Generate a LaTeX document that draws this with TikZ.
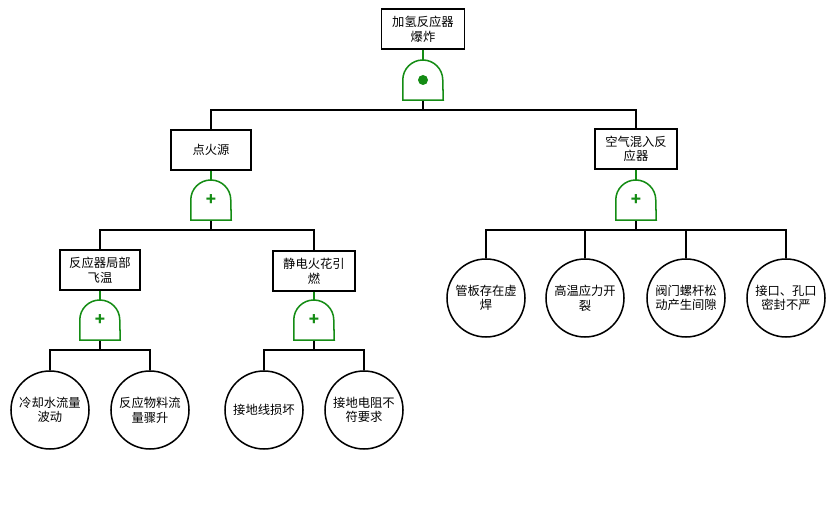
\documentclass[tikz,border=0pt]{standalone}
\usepackage{fontspec}
\setmainfont{Noto Sans CJK SC}
\usepackage{tikz}
\usetikzlibrary{positioning}
\definecolor{gategreen}{RGB}{20,140,20}

\begin{document}
\begin{tikzpicture}[
  x=0.03cm, y=0.03cm,
  event/.style={
    draw=black,
    line width=1.3pt,
    fill=white,
    minimum width=2.4cm,
    minimum height=1.2cm,
    inner sep=1pt,
    align=center,
    font=\fontsize{10.5}{12.5}\selectfont
  },
  basic/.style={
    draw=black,
    line width=1.3pt,
    circle,
    minimum size=2.34cm,
    inner sep=0pt,
    align=center,
    font=\fontsize{10.5}{12.5}\selectfont
  },
  gate/.style={
    minimum width=1.2cm,
    minimum height=1.2cm,
    inner sep=0pt,
    text=gategreen,
    font=\Large\bfseries
  },
  gateline/.style={draw=gategreen, line width=1.3pt},
  link/.style={draw=black, line width=1.3pt}
]
  \useasboundingbox (0,0) rectangle (835,513);

  % top event and first level
  \node[event, minimum width=2.5cm] (top) at (423,484) {加氢反应器\\爆炸};
  \node[gate] (gtop) at (423,433) {\tikz\fill circle (0.15cm);};
  \node[event] (ignite) at (211,363) {点火源};
  \node[gate] (gignite) at (211,313) {+};
  \node[event, minimum width=2.46cm] (air) at (636,364) {空气混入反\\应器};
  \node[gate] (gair) at (636,313) {+};

  % second level
  \node[event] (hot) at (100,243) {反应器局部\\飞温};
  \node[gate] (ghot) at (100,193) {+};
  \node[event, minimum width=2.46cm] (spark) at (314,242) {静电火花引\\燃};
  \node[gate] (gspark) at (314,193) {+};

  % basic events
  \node[basic] (e1) at (50,103) {冷却水流量\\波动};
  \node[basic] (e2) at (150,103) {反应物料流\\量骤升};
  \node[basic] (e3) at (264,103) {接地线损坏};
  \node[basic] (e4) at (364,103) {接地电阻不\\符要求};
  \node[basic] (e5) at (486,215) {管板存在虚\\焊};
  \node[basic] (e6) at (585,215) {高温应力开\\裂};
  \node[basic] (e7) at (686,215) {阀门螺杆松\\动产生间隙};
  \node[basic] (e8) at (786,215) {接口、孔口\\密封不严};

  \foreach \g/\e in {gtop/top, gignite/ignite, gair/air, ghot/hot, gspark/spark}
    \draw[gateline] (\e.south) -- (\g.north);

  \draw[link] (gtop.south) -- ++(0,-10) -| (ignite.north);
  \draw[link] (gtop.south) -- ++(0,-10) -| (air.north);
  \draw[link] (gignite.south) -- ++(0,-10) -| (hot.north);
  \draw[link] (gignite.south) -- ++(0,-10) -| (spark.north);
  \draw[link] (ghot.south) -- ++(0,-10) -| (e1.north);
  \draw[link] (ghot.south) -- ++(0,-10) -| (e2.north);
  \draw[link] (gspark.south) -- ++(0,-10) -| (e3.north);
  \draw[link] (gspark.south) -- ++(0,-10) -| (e4.north);
  \foreach \e in {e5,e6,e7,e8}
    \draw[link] (gair.south) -- ++(0,-10) -| (\e.north);

  % gate outlines
  \foreach \g in {gtop, gignite, gair, ghot, gspark}
    \draw[gateline] (\g.south west) -- (\g.west)
      arc[start angle=180, end angle=0, radius=0.6cm] -- (\g.south east) -- cycle;
\end{tikzpicture}
\end{document}
